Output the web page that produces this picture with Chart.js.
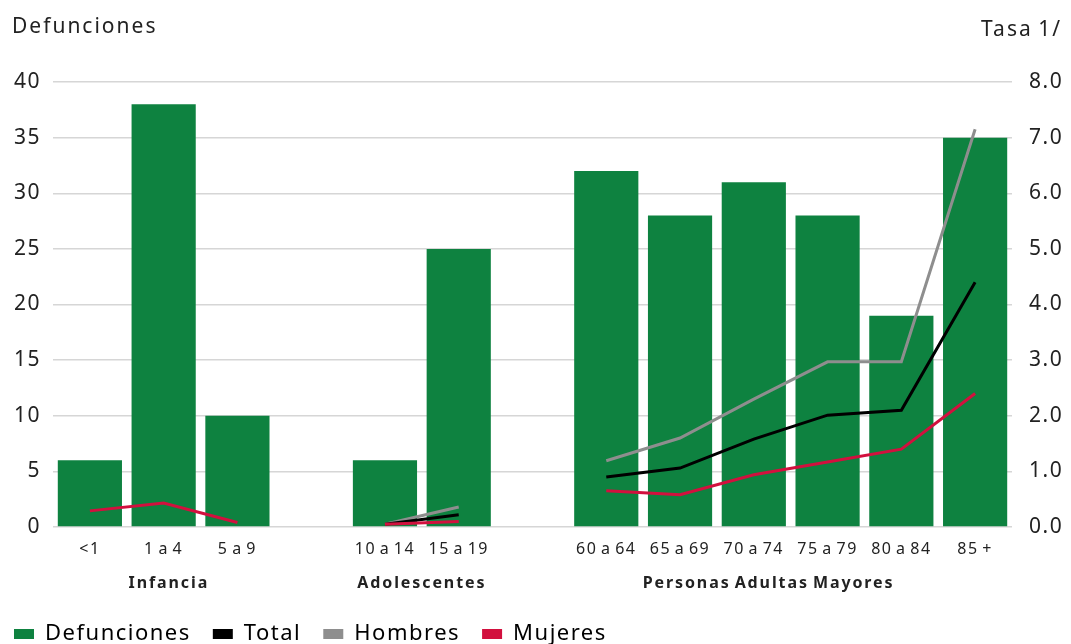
<!DOCTYPE html>
<html>
<head>
<meta charset="utf-8">
<script src="https://cdn.jsdelivr.net/npm/chart.js@4/dist/chart.umd.min.js"></script>
<style>
  html, body { margin: 0; padding: 0; background: #ffffff; }
  #wrap { width: 1071px; height: 644px; position: relative; }
</style>
</head>
<body>
<div id="wrap"><canvas id="c" width="1071" height="644"></canvas></div>
<script>
// Age groups (empty strings leave a gap between the three blocks)
const categories = ['<1', '1 a 4', '5 a 9', '', '10 a 14', '15 a 19', '',
  '60 a 64', '65 a 69', '70 a 74', '75 a 79', '80 a 84', '85 +'];

// Deaths per age group (left axis)
const defunciones = [6, 38, 10, null, 6, 25, null, 32, 28, 31, 28, 19, 35];

// Rates per age group (right axis)
const tasaTotal   = [null, null, null, null, 0.05, 0.22, null, 0.90, 1.06, 1.58, 2.01, 2.10, 4.40];
const tasaHombres = [null, null, null, null, 0.05, 0.36, null, 1.19, 1.60, 2.30, 2.97, 2.97, 7.15];
const tasaMujeres = [0.29, 0.43, 0.08, null, 0.05, 0.10, null, 0.65, 0.58, 0.94, 1.17, 1.40, 2.40];

// Block names under the category labels
const grupos = ['Infancia', 'Adolescentes', 'Personas Adultas Mayores'];

// Tick values
const ticksDefunciones = [0, 5, 10, 15, 20, 25, 30, 35, 40];
const ticksTasa = [0, 1, 2, 3, 4, 5, 6, 7, 8];

const FONT = "'Noto Sans', 'Open Sans', sans-serif";
const GREEN = '#0e8240';
const GRAY = '#8e8e8e';
const RED = '#d2103e';

// Slightly open letter spacing, tighter word spacing for every label
function setSpacing(ctx, letter) {
  ctx.letterSpacing = letter;
  ctx.wordSpacing = '-2px';
}
const spacing = {
  id: 'spacing',
  beforeUpdate(chart) { setSpacing(chart.ctx, '1.5px'); },
  beforeLayout(chart) { setSpacing(chart.ctx, '1.5px'); },
  beforeDraw(chart) { setSpacing(chart.ctx, '1.5px'); }
};

// Axis titles and block names drawn on the canvas
const extraText = {
  id: 'extraText',
  afterDraw(chart) {
    const ctx = chart.ctx;
    const x = chart.scales.x;
    ctx.save();
    ctx.fillStyle = '#222';
    ctx.textBaseline = 'middle';
    setSpacing(ctx, '2px');
    ctx.font = "21px " + FONT;
    ctx.textAlign = 'left';
    ctx.fillText('Defunciones', 12, 27);
    ctx.textAlign = 'right';
    ctx.fillText('Tasa 1/', 1062, 30);

    setSpacing(ctx, '1.9px');
    ctx.font = "bold 16px " + FONT;
    ctx.textAlign = 'center';
    const anchors = [1.07, 4.5, 9.2];
    grupos.forEach((g, i) => {
      const a = anchors[i];
      const i0 = Math.floor(a);
      const p = x.getPixelForValue(i0) + (a - i0) * (x.getPixelForValue(i0 + 1) - x.getPixelForValue(i0));
      ctx.fillText(g, p, 583);
    });
    ctx.restore();
  }
};

new Chart(document.getElementById('c'), {
  data: {
    labels: categories,
    datasets: [
      { type: 'line', label: 'Mujeres', data: tasaMujeres, yAxisID: 'y1',
        borderColor: RED, backgroundColor: RED, borderWidth: 3, pointRadius: 0, order: 0, spanGaps: false },
      { type: 'line', label: 'Total', data: tasaTotal, yAxisID: 'y1',
        borderColor: '#000000', backgroundColor: '#000000', borderWidth: 3, pointRadius: 0, order: 1, spanGaps: false },
      { type: 'line', label: 'Hombres', data: tasaHombres, yAxisID: 'y1',
        borderColor: GRAY, backgroundColor: GRAY, borderWidth: 3, pointRadius: 0, order: 2, spanGaps: false },
      { type: 'bar', label: 'Defunciones', data: defunciones, yAxisID: 'y',
        backgroundColor: GREEN, borderWidth: 0, order: 3,
        categoryPercentage: 1.0, barPercentage: 0.87 }
    ]
  },
  options: {
    responsive: false,
    animation: false,
    layout: { padding: { top: 82, left: -8, right: 0, bottom: -11 } },
    plugins: {
      tooltip: { enabled: false },
      legend: {
        position: 'bottom',
        align: 'start',
        labels: {
          color: '#111',
          font: { family: FONT, size: 22 },
          boxWidth: 20,
          boxHeight: 10,
          padding: 22,
          generateLabels(chart) {
            const order = [3, 1, 2, 0];
            return order.map(i => {
              const ds = chart.data.datasets[i];
              const c = ds.type === 'bar' ? ds.backgroundColor : ds.borderColor;
              return { text: ds.label, fillStyle: c, strokeStyle: c, lineWidth: 0, datasetIndex: i, hidden: false };
            });
          }
        }
      }
    },
    scales: {
      x: {
        grid: { display: false, drawTicks: false },
        border: { display: false },
        ticks: { color: '#222', font: { family: FONT, size: 16 }, padding: 13, autoSkip: false, maxRotation: 0 },
        afterFit(s) { s.height = 74; }
      },
      y: {
        position: 'left',
        min: 0, max: 40,
        afterBuildTicks(s) { s.ticks = ticksDefunciones.map(v => ({ value: v })); },
        grid: { color: '#d6d6d6', lineWidth: 1.5, drawTicks: false },
        border: { display: false },
        ticks: { color: '#222', font: { family: FONT, size: 21 }, padding: 12 },
        afterFit(s) { s.width = 61; }
      },
      y1: {
        position: 'right',
        min: 0, max: 8,
        afterBuildTicks(s) { s.ticks = ticksTasa.map(v => ({ value: v })); },
        grid: { display: false, drawTicks: false },
        border: { display: false },
        ticks: { color: '#222', font: { family: FONT, size: 21 }, padding: 17,
          callback: v => Number(v).toFixed(1) },
        afterFit(s) { s.width = 59; }
      }
    }
  },
  plugins: [spacing, extraText]
});
</script>
</body>
</html>
